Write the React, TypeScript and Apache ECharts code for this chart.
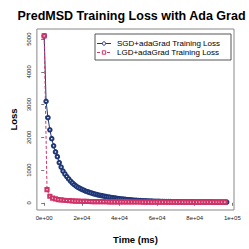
import React, { useEffect, useRef } from "react";
import * as echarts from "echarts";

const TITLE = "PredMSD Training Loss with Ada Grad";
const X_NAME = "Time (ms)";
const Y_NAME = "Loss";
const SERIES_NAMES = ["SGD+adaGrad Training Loss", "LGD+adaGrad Training Loss"];

const sgdTime = [
  0, 1000, 2000, 3000, 4000, 5000, 6000, 7000, 8000, 9000,
  10000, 11000, 12000, 13000, 14000, 15000, 16000, 17000, 18000, 19000,
  20000, 21000, 22000, 23000, 24000, 25000, 26000, 27000, 28000, 29000,
  30000, 31000, 32000, 33000, 34000, 35000, 36000, 37000, 38000, 39000,
  40000, 41000, 42000, 43000, 44000, 45000, 46000, 47000, 48000, 49000,
  50000, 51000, 52000, 53000, 54000, 55000, 56000, 57000, 58000, 59000,
  60000, 61000, 62000, 63000, 64000, 65000, 66000, 67000, 68000, 69000,
  70000, 71000, 72000, 73000, 74000, 75000, 76000, 77000, 78000, 79000,
  80000, 81000, 82000, 83000, 84000, 85000, 86000, 87000, 88000, 89000,
  90000, 91000, 92000, 93000, 94000, 95000, 96000, 97000,
];
const sgdLoss = [
  5100, 3100, 2600, 2230, 1960, 1740, 1555, 1410, 1230, 1090,
  970, 880, 800, 730, 665, 605, 555, 510, 470, 440,
  410, 385, 360, 338, 318, 300, 283, 267, 252, 238,
  225, 213, 201, 190, 179, 169, 160, 151, 142, 134,
  126, 119, 112, 106, 100, 94, 89, 84, 79, 75,
  71, 67, 64, 61, 58, 55, 53, 51, 49, 47,
  45, 43, 42, 40, 39, 38, 37, 36, 35, 34,
  33, 32, 32, 31, 30, 30, 29, 29, 28, 28,
  27, 27, 27, 26, 26, 26, 25, 25, 25, 25,
  24, 24, 24, 24, 23, 23, 23, 23,
];
const lgdTime = [
  0, 1500, 3000, 4500, 6000, 7500, 9000, 10500, 12000, 13500,
  15000, 16500, 18000, 19500, 21000, 22500, 24000, 25500, 27000, 28500,
  30000, 31500, 33000, 34500, 36000, 37500, 39000, 40500, 42000, 43500,
  45000, 46500, 48000, 49500, 51000, 52500, 54000, 55500, 57000, 58500,
  60000, 61500, 63000, 64500, 66000, 67500, 69000, 70500, 72000, 73500,
  75000, 76500, 78000, 79500, 81000, 82500, 84000, 85500, 87000, 88500,
  90000, 91500, 93000, 94500, 96000,
];
const lgdLoss = [
  5100, 400, 200, 145, 118, 100, 88, 78, 70, 64,
  58, 54, 50, 47, 44, 42, 40, 38, 36, 35,
  34, 33, 32, 31, 30, 29, 28, 28, 27, 26,
  26, 25, 25, 24, 24, 23, 23, 23, 22, 22,
  22, 21, 21, 21, 21, 20, 20, 20, 20, 20,
  20, 19, 19, 19, 19, 19, 19, 19, 18, 18,
  18, 18, 18, 18, 18,
];

const xTicks = [0, 20000, 40000, 60000, 80000, 100000];
const xTickLabels = ["0e+00", "2e+04", "4e+04", "6e+04", "8e+04", "1e+05"];
const yTicks = [0, 1000, 2000, 3000, 4000, 5000];
const yTickLabels = ["0", "1000", "2000", "3000", "4000", "5000"];

const BLUE = "#1f3677";
const PINK = "#cf3468";
const FONT = "Liberation Sans, Arial, sans-serif";

export default function App() {
  const ref = useRef<HTMLDivElement>(null);
  useEffect(() => {
    if (!ref.current) return;
    const chart = echarts.init(ref.current, undefined, { renderer: "svg" });
    const lx = 95, ly = 34, lw = 136, lh = 26;
    const row1 = 43.5, row2 = 52.5;
    chart.setOption({
      animation: false,
      backgroundColor: "#ffffff",
      textStyle: { fontFamily: FONT },
      grid: {
        left: 29, right: 15, top: 29, bottom: 36,
        show: true, borderColor: "#888", borderWidth: 1, backgroundColor: "transparent",
      },
      xAxis: {
        type: "value", min: -3880, max: 100880,
        name: X_NAME, nameLocation: "middle", nameGap: 24,
        nameTextStyle: { fontSize: 9.5, fontWeight: "bold", color: "#000", fontFamily: FONT },
        axisLine: { show: false },
        splitLine: { show: false },
        axisTick: { show: true, customValues: xTicks, length: 3, lineStyle: { color: "#777" } },
        axisLabel: {
          customValues: xTicks, fontSize: 6, color: "#222", margin: 5,
          formatter: (v: number) => xTickLabels[xTicks.indexOf(v)] ?? "",
        },
      },
      yAxis: {
        type: "value", min: -220, max: 5310,
        name: Y_NAME, nameLocation: "middle", nameGap: 17, nameRotate: 90,
        nameTextStyle: { fontSize: 9.5, fontWeight: "bold", color: "#000", fontFamily: FONT },
        axisLine: { show: false },
        splitLine: { show: false },
        axisTick: { show: true, customValues: yTicks, length: 3, lineStyle: { color: "#777" } },
        axisLabel: {
          customValues: yTicks, fontSize: 6, color: "#222", margin: 5, rotate: 90,
          formatter: (v: number) => yTickLabels[yTicks.indexOf(v)] ?? "",
        },
      },
      series: [
        {
          name: SERIES_NAMES[0], type: "line",
          data: sgdTime.map((t, i) => [t, sgdLoss[i]]),
          symbol: "emptyCircle", symbolSize: 3.5,
          lineStyle: { color: BLUE, width: 1 },
          itemStyle: { color: BLUE, borderColor: BLUE, borderWidth: 1 },
        },
        {
          name: SERIES_NAMES[1], type: "line",
          data: lgdTime.map((t, i) => [t, lgdLoss[i]]),
          symbol: "emptyRect", symbolSize: 3.2,
          lineStyle: { color: PINK, width: 1, type: [3, 2] },
          itemStyle: { color: PINK, borderColor: PINK, borderWidth: 1 },
        },
      ],
      graphic: [
        {
          type: "text", x: 131.5, y: 16,
          style: {
            text: TITLE, textAlign: "center", textVerticalAlign: "middle",
            font: `bold 12.5px ${FONT}`, fill: "#000",
          },
        },
        {
          type: "rect", shape: { x: lx, y: ly, width: lw, height: lh },
          style: { fill: "#fff", stroke: "#555", lineWidth: 1 }, z: 10,
        },
        {
          type: "line", shape: { x1: 97, y1: row1, x2: 111, y2: row1 },
          style: { stroke: BLUE, lineWidth: 1 }, z: 11,
        },
        {
          type: "circle", shape: { cx: 104, cy: row1, r: 1.7 },
          style: { fill: "#fff", stroke: BLUE, lineWidth: 1 }, z: 12,
        },
        {
          type: "text", x: 117, y: row1,
          style: { text: SERIES_NAMES[0], textVerticalAlign: "middle", font: `8px ${FONT}`, fill: "#000" }, z: 12,
        },
        {
          type: "line", shape: { x1: 97, y1: row2, x2: 111, y2: row2 },
          style: { stroke: PINK, lineWidth: 1, lineDash: [3, 2] }, z: 11,
        },
        {
          type: "rect", shape: { x: 102.3, y: row2 - 1.7, width: 3.4, height: 3.4 },
          style: { fill: "#fff", stroke: PINK, lineWidth: 1 }, z: 12,
        },
        {
          type: "text", x: 117, y: row2,
          style: { text: SERIES_NAMES[1], textVerticalAlign: "middle", font: `8px ${FONT}`, fill: "#000" }, z: 12,
        },
      ],
    });
    return () => chart.dispose();
  }, []);
  return <div ref={ref} style={{ width: 249, height: 249, position: "absolute", left: 0, top: 0 }} />;
}
